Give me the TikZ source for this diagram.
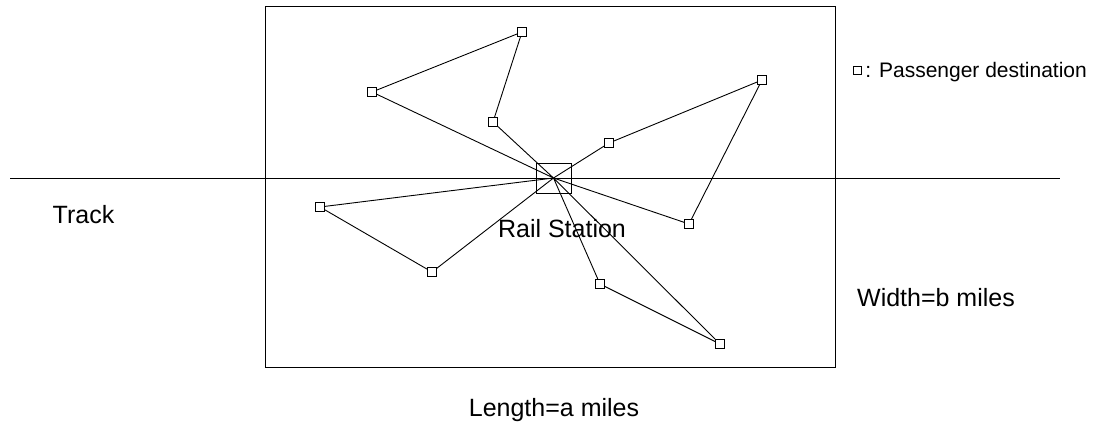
\documentclass[tikz,border=0pt]{standalone}
\usepackage{fontspec}
\setmainfont{Liberation Sans}
\usetikzlibrary{positioning}

\begin{document}
\begin{tikzpicture}[x=1pt, y=-1pt, line width=0.9pt,
    dest/.style={draw, fill=white, minimum size=9pt, inner sep=0pt},
    station/.style={draw, minimum width=35pt, minimum height=30pt, inner sep=0pt},
    lbl/.style={font=\fontsize{25}{30}\selectfont, inner sep=0pt, anchor=base},
    key/.style={font=\fontsize{21}{25}\selectfont, inner sep=0pt}]
  \useasboundingbox (0,0) rectangle (1098,423);%
  % service area and track
  \node[draw, minimum width=570pt, minimum height=361pt, inner sep=0pt] (area) at (550,186.5) {};%
  \coordinate (tl) at (10,178);%
  \coordinate (tr) at (1060,178);%
  \draw (tl) -- (tr);%
  \node[station] (rs) at (553.5,178) {};%
  % destinations
  \node[dest] (a) at (522,32) {};%
  \node[dest] (b) at (372,92) {};%
  \node[dest] (c) at (493,122) {};%
  \node[dest] (d) at (762,80) {};%
  \node[dest] (e) at (609,143) {};%
  \node[dest] (f) at (320,207) {};%
  \node[dest] (g) at (432,272) {};%
  \node[dest] (h) at (689,224) {};%
  \node[dest] (i) at (600,284) {};%
  \node[dest] (j) at (720,344) {};%
  % tours
  \draw (rs.center) -- (b) -- (a) -- (c) -- (rs.center);%
  \draw (rs.center) -- (e) -- (d) -- (h) -- (rs.center);%
  \draw (rs.center) -- (f) -- (g) -- (rs.center);%
  \draw (rs.center) -- (i) -- (j) -- (rs.center);%
  % labels
  \node[lbl] (track) at (83.5,223) {Track};%
  \node[lbl] (rslbl) at (562,237) {Rail Station};%
  \node[lbl] (wid) at (936,306) {Width=b miles};%
  \node[lbl] (len) at (554,416) {Length=a miles};%
  \node[dest, minimum size=8pt, line width=0.6pt] (keybox) at (857,70) {};%
  \node[key, anchor=base west] (keytxt) at (865,77) {: Passenger destination};%
\end{tikzpicture}
\end{document}
